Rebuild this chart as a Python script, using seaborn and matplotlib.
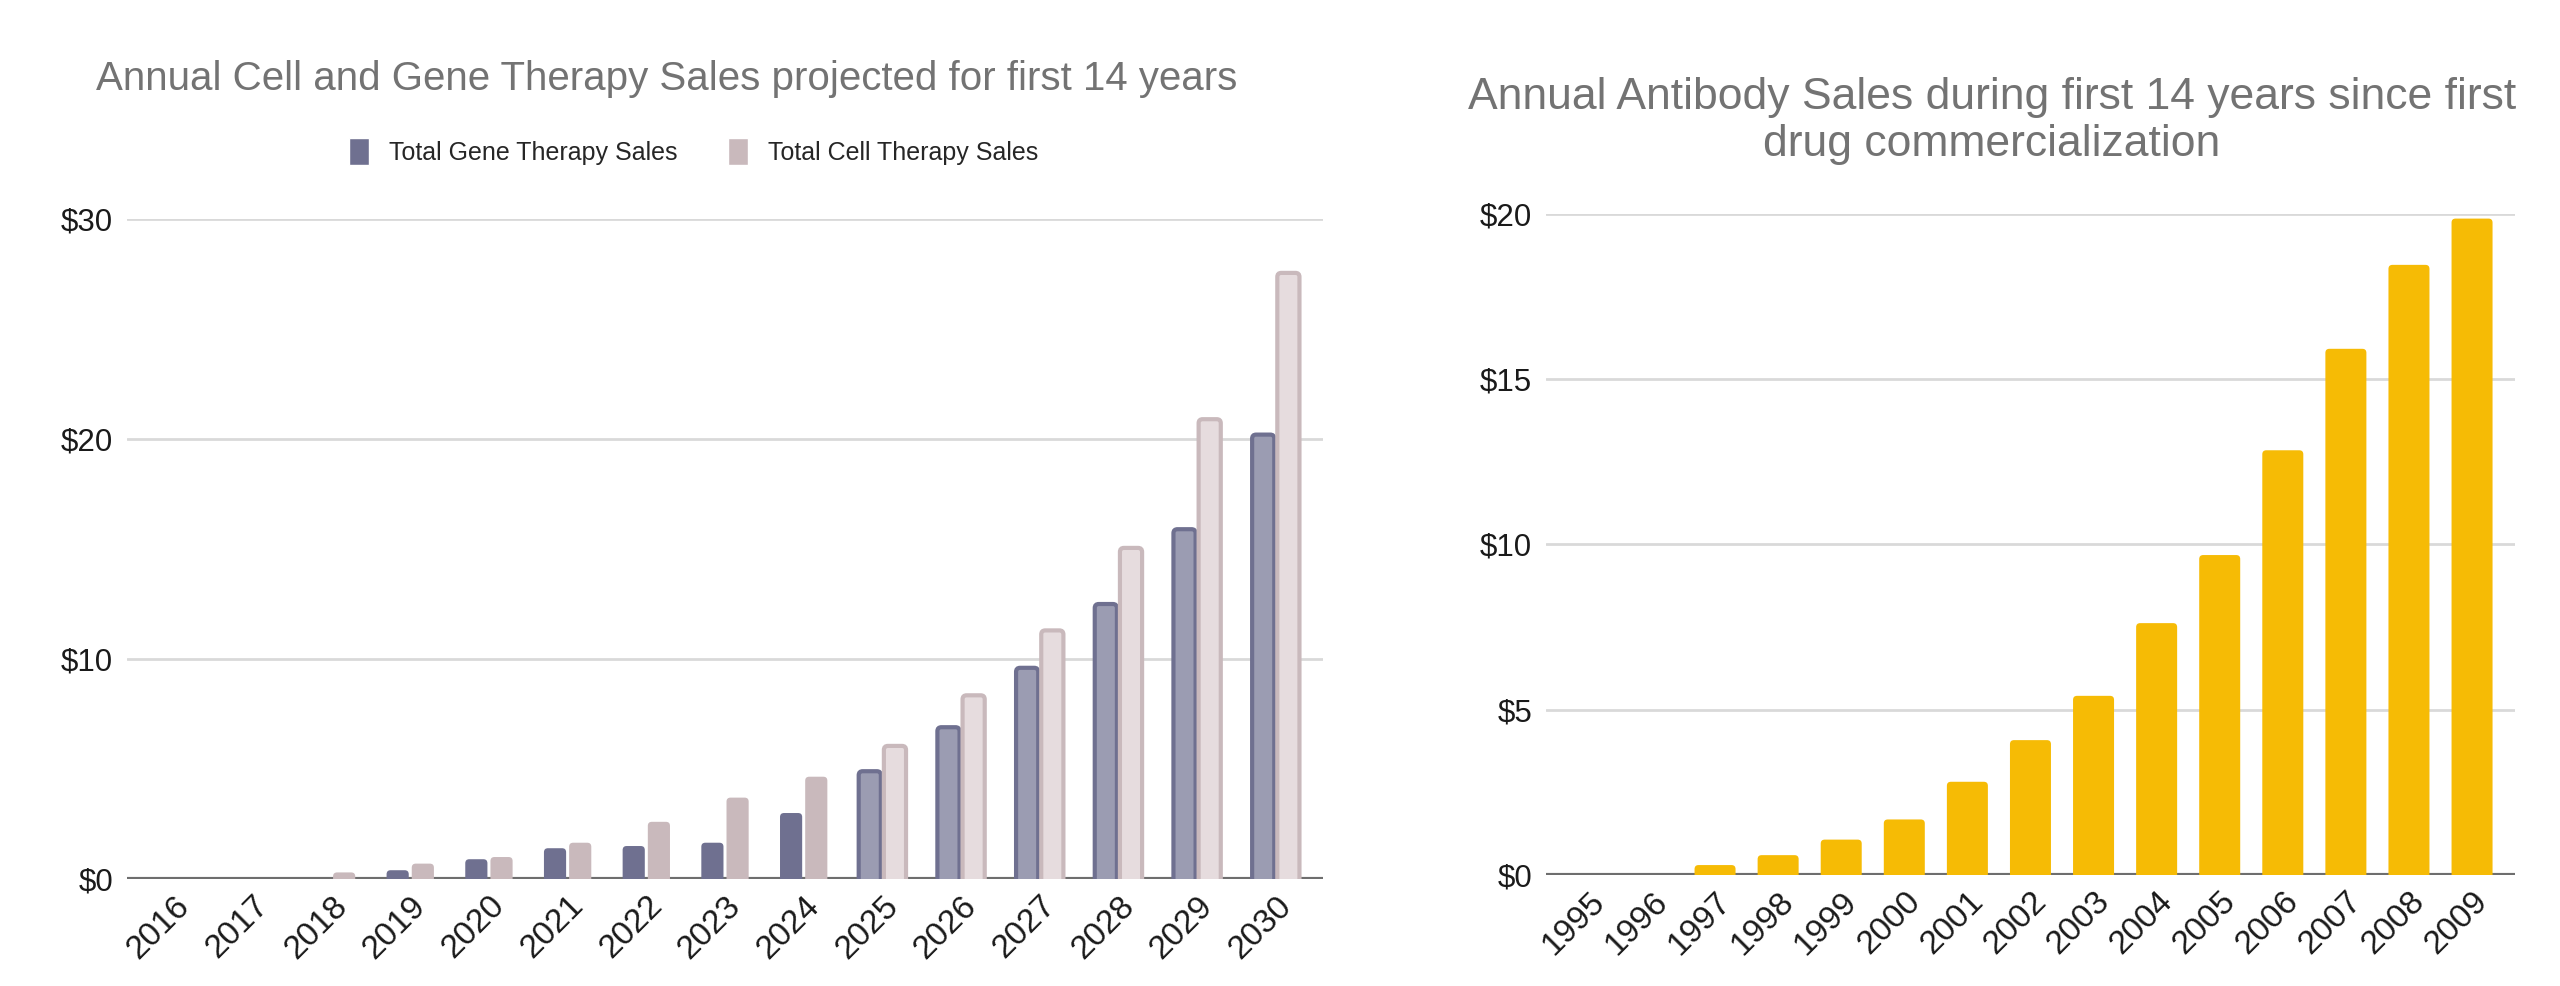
import numpy as np
import pandas as pd
import matplotlib.pyplot as plt
import seaborn as sns
from matplotlib.patches import Patch, FancyBboxPatch

sns.set_style("white")
plt.rcParams['font.family'] = ['Liberation Sans', 'DejaVu Sans']

# data (billions USD)
therapy_years = [str(y) for y in range(2016, 2031)]
gene_sales = [0, 0, 0, 0.4, 0.9, 1.4, 1.5, 1.65, 3.0, 4.9, 6.9, 9.6, 12.5, 15.9, 20.2]
cell_sales = [0, 0, 0.3, 0.7, 1.0, 1.65, 2.6, 3.7, 4.65, 6.05, 8.35, 11.3, 15.05, 20.9, 27.55]
first_projected = 9  # 2025 onwards drawn lighter

antibody_years = [str(y) for y in range(1995, 2010)]
antibody_sales = [0, 0, 0.3, 0.6, 1.07, 1.68, 2.82, 4.08, 5.42, 7.62, 9.68, 12.85, 15.92, 18.46, 19.86]

gene_dark, gene_light = "#6f7090", "#9b9cb2"
cell_dark, cell_light = "#c9b9bc", "#e6dcde"
gold = "#f6bb05"
grid_c = "#d9d9d9"
title_c = "#737373"


def round_tops(ax, radius_px=4):
    # swap the plain bars for ones with rounded top corners
    fig.canvas.draw()
    x0, y0 = ax.transData.transform((0, 0))
    x1, y1 = ax.transData.transform((1, 1))
    px_x, px_y = x1 - x0, y1 - y0
    r = radius_px / px_x
    aspect = px_x / px_y
    pad = radius_px / px_y
    for cont in ax.containers:
        for bar in cont:
            h = bar.get_height()
            if h <= 0:
                bar.remove()
                continue
            fb = FancyBboxPatch((bar.get_x(), -pad), bar.get_width(), h + pad,
                                boxstyle="round,pad=0,rounding_size=%f" % r,
                                mutation_aspect=aspect,
                                facecolor=bar.get_facecolor(), edgecolor=bar.get_edgecolor(),
                                linewidth=bar.get_linewidth(), zorder=3)
            ax.add_patch(fb)
            bar.remove()


fig = plt.figure(figsize=(25.6, 9.86), dpi=100)
ax1 = fig.add_axes([0.0496, 0.1085, 0.4672, 0.6694])
ax2 = fig.add_axes([0.6039, 0.1126, 0.3785, 0.6704])

# left: gene vs cell therapy
df = pd.DataFrame({
    "year": therapy_years * 2,
    "sales": gene_sales + cell_sales,
    "kind": ["Total Gene Therapy Sales"] * 15 + ["Total Cell Therapy Sales"] * 15,
})
sns.barplot(data=df, x="year", y="sales", hue="kind", ax=ax1,
            palette=[gene_dark, cell_dark], width=0.64, gap=0.12,
            saturation=1, legend=False, zorder=3)
for cont, dark, light in zip(ax1.containers, [gene_dark, cell_dark], [gene_light, cell_light]):
    for i, bar in enumerate(cont):
        if i >= first_projected:
            bar.set_facecolor(light)
            bar.set_edgecolor(dark)
            bar.set_linewidth(3)
        else:
            bar.set_edgecolor(dark)
            bar.set_linewidth(0)

ax1.set_ylim(0, 30)
ax1.set_yticks([0, 10, 20, 30])
ax1.set_xlim(-0.6, 14.6)

# right: antibodies
sns.barplot(x=antibody_years, y=antibody_sales, ax=ax2, color=gold,
            width=0.65, saturation=1, zorder=3)
for bar in ax2.containers[0]:
    bar.set_linewidth(0)
ax2.set_ylim(0, 20)
ax2.set_yticks([0, 5, 10, 15, 20])
ax2.set_xlim(-0.68, 14.68)

for ax in (ax1, ax2):
    sns.despine(ax=ax, left=True, bottom=True)
    ax.set_xlabel("")
    ax.set_ylabel("")
    ax.grid(axis="y", color=grid_c, linewidth=2, zorder=0)
    ax.axhline(0, color="#6e6e6e", linewidth=3, zorder=2.5)
    ax.set_yticklabels(["$%d" % t for t in ax.get_yticks()])
    ax.tick_params(axis="y", length=0, labelsize=22.5, pad=10, labelcolor="#1a1a1a")
    ax.tick_params(axis="x", length=0, labelsize=24, pad=8, labelcolor="#1a1a1a")
    for lab in ax.get_xticklabels():
        lab.set_rotation(45)
        lab.set_ha("right")
        lab.set_rotation_mode("anchor")

round_tops(ax1)
round_tops(ax2)

fig.text(0.2605, 0.920, "Annual Cell and Gene Therapy Sales projected for first 14 years",
         ha="center", va="center", fontsize=29, color=title_c)
fig.text(0.778, 0.877, "Annual Antibody Sales during first 14 years since first\ndrug commercialization",
         ha="center", va="center", fontsize=32, color=title_c, linespacing=1.2)

handles = [Patch(facecolor=gene_dark, label="Total Gene Therapy Sales"),
           Patch(facecolor=cell_dark, label="Total Cell Therapy Sales")]
fig.legend(handles=handles, loc="center", bbox_to_anchor=(0.271, 0.846), ncol=2,
           frameon=False, fontsize=18, handlelength=0.8, handleheight=1.3,
           columnspacing=2.0, handletextpad=0.8)

fig.savefig("out.png", dpi=100, facecolor="white")
